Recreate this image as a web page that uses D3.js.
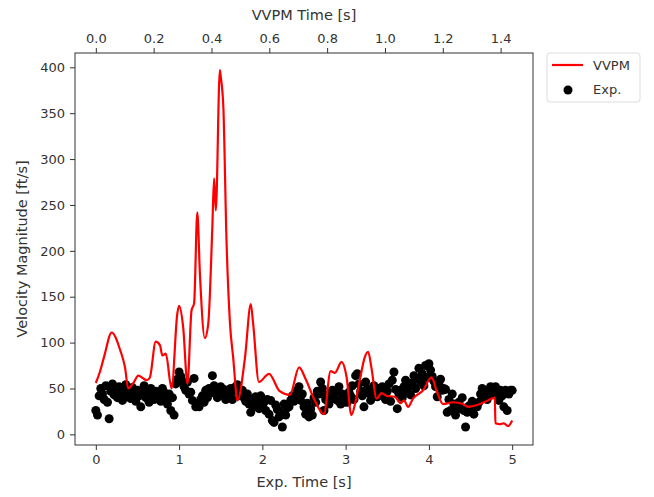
<!DOCTYPE html>
<html>
<head>
<meta charset="utf-8">
<script src="https://cdn.jsdelivr.net/npm/d3@7"></script>
<style>
  body { margin: 0; background: #fff; }
  text { font-family: "DejaVu Sans", sans-serif; fill: #333; }
</style>
</head>
<body>
<svg id="chart" width="654" height="497"></svg>
<script>
// VVPM simulation: time on the top axis [s], velocity [ft/s]
var vvpmTime = [0, 0.014, 0.029, 0.055, 0.084, 0.101, 0.112, 0.130, 0.147, 0.176,
  0.187, 0.207, 0.222, 0.230, 0.242, 0.262, 0.282, 0.288, 0.302, 0.317,
  0.331, 0.340, 0.351, 0.360, 0.377, 0.389, 0.403, 0.409, 0.415, 0.429,
  0.432, 0.441, 0.452, 0.464, 0.475, 0.490, 0.516, 0.536, 0.544, 0.564,
  0.599, 0.636, 0.671, 0.703, 0.726, 0.757, 0.789, 0.812, 0.827, 0.850,
  0.867, 0.884, 0.899, 0.913, 0.930, 0.942, 0.953, 0.971, 0.988, 1.005,
  1.034, 1.054, 1.066, 1.080, 1.097, 1.132, 1.161, 1.178, 1.201, 1.236,
  1.270, 1.287, 1.328, 1.356, 1.380, 1.382, 1.397, 1.411, 1.426, 1.440];
var vvpmSpeed = [56, 68, 85, 111, 92, 73, 50, 56, 64, 59,
  62, 101, 97, 86, 88, 50, 132, 140, 117, 55,
  135, 143, 242, 175, 105, 121, 226, 279, 244, 397,
  390, 357, 211, 121, 84, 37, 84, 142, 121, 57,
  66, 47, 43, 73, 60, 37, 22, 69, 67, 79,
  63, 21, 37, 59, 84, 90, 73, 39, 45, 42,
  41, 34, 37, 30, 39, 48, 62, 48, 33, 35,
  33, 30, 33, 37, 40, 12, 11, 12, 9, 15];

// Experiment: sampled every expDt seconds from 0 to 5 s
var expDt = 0.02;
var expSpeed = [
  26, 21, 42, 50, 44, 38, 53, 35, 17, 47,
  55, 43, 48, 40, 52, 45, 37, 50, 54, 41,
  46, 39, 51, 44, 36, 48, 42, 30, 47, 53,
  40, 45, 35, 50, 43, 38, 47, 41, 44, 36,
  50, 46, 39, 33, 44, 26, 40, 21, 55, 60,
  68, 63, 57, 52, 48, 57, 44, 46, 37, 61,
  30, 33, 30, 38, 42, 35, 48, 40, 50, 45,
  64, 53, 46, 40, 47, 52, 43, 49, 38, 46,
  44, 50, 38, 47, 52, 54, 45, 42, 48, 40,
  36, 44, 33, 24, 38, 30, 41, 35, 28, 42,
  30, 35, 26, 38, 22, 37, 15, 13, 32, 27,
  19, 24, 8, 33, 21, 29, 30, 37, 42, 36,
  41, 48, 52, 37, 44, 30, 22, 34, 19, 28,
  21, 40, 35, 47, 44, 57, 50, 26, 38, 43,
  33, 41, 48, 39, 46, 37, 52, 33, 44, 35,
  40, 35, 46, 42, 53, 38, 64, 66, 55, 47,
  42, 30, 57, 50, 45, 37, 44, 53, 48, 41,
  50, 45, 52, 41, 38, 47, 55, 36, 59, 68,
  49, 28, 44, 48, 40, 52, 59, 46, 52, 43,
  56, 64, 50, 61, 72, 57, 66, 53, 75, 62,
  77, 70, 63, 58, 52, 41, 55, 60, 48, 50,
  49, 24, 38, 26, 44, 33, 21, 30, 35, 28,
  40, 26, 8, 24, 31, 26, 36, 22, 33, 30,
  35, 44, 50, 40, 47, 38, 42, 52, 45, 50,
  52, 44, 37, 48, 42, 30, 48, 26, 44, 48,
  48];

var expTicks = [0, 1, 2, 3, 4, 5];
var vvpmTicks = [0, 0.2, 0.4, 0.6, 0.8, 1.0, 1.2, 1.4];
var speedTicks = [0, 50, 100, 150, 200, 250, 300, 350, 400];

var svg = d3.select('#chart');
var plotLeft = 75, plotRight = 533, plotTop = 53, plotBottom = 445;

var x = d3.scaleLinear().domain([-0.25, 5.25]).range([plotLeft, plotRight]);
var xTop = d3.scaleLinear().domain([-0.072, 1.512]).range([plotLeft, plotRight]);
var y = d3.scaleLinear().domain([-11.6, 415.6]).range([plotBottom, plotTop]);

// axes
function styleAxis(g) {
    g.select('.domain').remove();
    g.selectAll('.tick line').attr('stroke', '#333');
    g.selectAll('.tick text').style('font-size', '13px').attr('fill', '#333');
}

svg.append('g')
    .attr('transform', 'translate(0,' + plotBottom + ')')
    .call(d3.axisBottom(x).tickValues(expTicks).tickFormat(d3.format('d')).tickSize(5).tickPadding(5))
    .call(styleAxis);

svg.append('g')
    .attr('transform', 'translate(0,' + plotTop + ')')
    .call(d3.axisTop(xTop).tickValues(vvpmTicks).tickFormat(d3.format('.1f')).tickSize(5).tickPadding(5))
    .call(styleAxis);

svg.append('g')
    .attr('transform', 'translate(' + plotLeft + ',0)')
    .call(d3.axisLeft(y).tickValues(speedTicks).tickFormat(d3.format('d')).tickSize(5).tickPadding(5))
    .call(styleAxis);

// scatter first, the line sits on top of it
svg.append('clipPath').attr('id', 'plotclip')
    .append('rect')
    .attr('x', plotLeft).attr('y', plotTop)
    .attr('width', plotRight - plotLeft).attr('height', plotBottom - plotTop);

var plot = svg.append('g').attr('clip-path', 'url(#plotclip)');

plot.selectAll('circle.exp')
    .data(expSpeed)
    .enter().append('circle')
    .attr('class', 'exp')
    .attr('cx', function(d, i) { return x(i * expDt); })
    .attr('cy', function(d) { return y(d); })
    .attr('r', 4.5)
    .attr('fill', '#000');

var line = d3.line()
    .x(function(d, i) { return xTop(vvpmTime[i]); })
    .y(function(d) { return y(d); })
    .curve(d3.curveMonotoneX);

plot.append('path')
    .datum(vvpmSpeed)
    .attr('d', line)
    .attr('fill', 'none')
    .attr('stroke', '#ff0000')
    .attr('stroke-width', 2.2)
    .attr('stroke-linejoin', 'round');

// frame
svg.append('rect')
    .attr('x', plotLeft).attr('y', plotTop)
    .attr('width', plotRight - plotLeft).attr('height', plotBottom - plotTop)
    .attr('fill', 'none').attr('stroke', '#333').attr('stroke-width', 1);

// labels
svg.append('text')
    .attr('x', (plotLeft + plotRight) / 2).attr('y', 487)
    .attr('text-anchor', 'middle').style('font-size', '14.5px')
    .text('Exp. Time [s]');

svg.append('text')
    .attr('x', (plotLeft + plotRight) / 2).attr('y', 20)
    .attr('text-anchor', 'middle').style('font-size', '14.5px')
    .text('VVPM Time [s]');

svg.append('text')
    .attr('transform', 'translate(27,' + ((plotTop + plotBottom) / 2) + ') rotate(-90)')
    .attr('text-anchor', 'middle').style('font-size', '14.5px')
    .text('Velocity Magnitude [ft/s]');

// legend
var legend = svg.append('g').attr('transform', 'translate(547,53)');
legend.append('rect')
    .attr('width', 93).attr('height', 49).attr('rx', 3)
    .attr('fill', '#fff').attr('stroke', '#ddd');
legend.append('line')
    .attr('x1', 5).attr('x2', 36).attr('y1', 12).attr('y2', 12)
    .attr('stroke', '#ff0000').attr('stroke-width', 2.2);
legend.append('text').attr('x', 46).attr('y', 17).style('font-size', '13px').text('VVPM');
legend.append('circle').attr('cx', 21).attr('cy', 37).attr('r', 4.5).attr('fill', '#000');
legend.append('text').attr('x', 46).attr('y', 41).style('font-size', '13px').text('Exp.');
</script>
</body>
</html>
